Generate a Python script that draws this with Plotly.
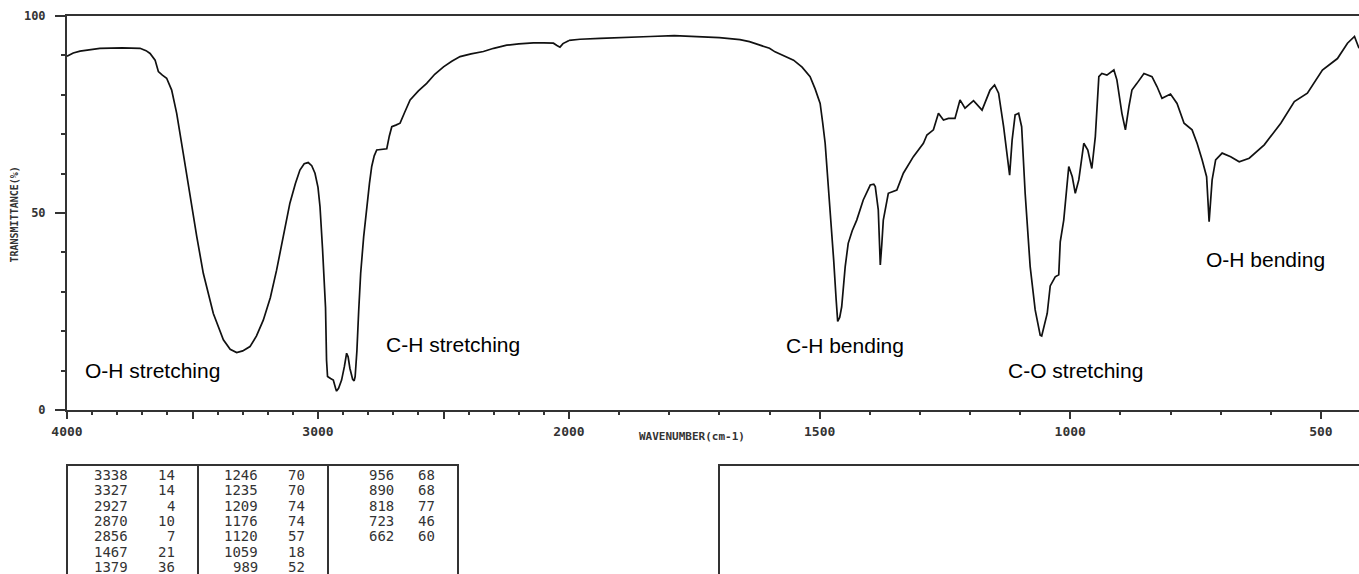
import plotly.graph_objects as go

# ---- IR spectrum: wavenumber (cm-1) vs transmittance (%) ----
WAVENUMBER = [
    4000, 3975, 3948, 3900, 3869, 3780, 3709, 3685, 3669, 3649, 3636, 3620, 3603,
    3583, 3563, 3537, 3510, 3483, 3457, 3417, 3377, 3350, 3324, 3300, 3271, 3245,
    3218, 3190, 3165, 3140, 3112, 3090, 3072, 3055, 3039, 3025, 3012, 3000, 2992,
    2982, 2970, 2966, 2962, 2950, 2939, 2930, 2926, 2918, 2906, 2895, 2886, 2880,
    2873, 2862, 2856, 2852, 2845, 2838, 2830, 2818, 2806, 2795, 2786, 2776, 2766,
    2745, 2726, 2716, 2706, 2690, 2673, 2655, 2633, 2600, 2567, 2535, 2500, 2467,
    2434, 2390, 2341, 2300, 2248, 2200, 2142, 2100, 2062, 2048, 2036, 2024, 2009,
    2000,
    1978, 1938, 1890, 1838, 1790, 1738, 1700, 1659, 1640, 1619, 1600, 1589, 1569,
    1552, 1535, 1519, 1509, 1499, 1494, 1489, 1484, 1479, 1472, 1467, 1464, 1460,
    1456, 1449, 1443, 1435, 1426, 1413, 1399, 1392, 1389, 1383, 1379, 1376, 1373,
    1363, 1346, 1333, 1313, 1293, 1286, 1273, 1263, 1253, 1243, 1230, 1220, 1210,
    1193, 1176, 1160, 1151, 1143, 1133, 1127, 1121, 1116, 1110, 1103, 1097, 1090,
    1080, 1070, 1060, 1057, 1050, 1046, 1040, 1030, 1023, 1020, 1013, 1003, 996,
    990, 983, 973, 965, 957, 950, 943, 937, 927, 913, 907, 897, 890, 883, 877,
    867, 853, 837, 827, 817, 808, 800, 787, 773, 757, 747, 737, 728, 723, 717,
    710, 697, 680, 663, 643, 613, 580, 553, 527, 497, 467, 447, 433, 424,
]
TRANSMITTANCE = [
    89.8, 90.6, 91.1, 91.6, 91.8, 91.9, 91.8, 91.2, 90.5, 88.8, 85.9, 85.0, 84.2,
    81.2, 75.3, 65.2, 54.1, 44.0, 34.7, 24.5, 17.8, 15.4, 14.6, 15.0, 16.1, 18.8,
    22.8, 28.5, 35.5, 43.5, 52.5, 57.5, 60.9, 62.5, 62.8, 62.0, 60.1, 56.5, 51.6,
    41.0, 26.0, 12.7, 8.5, 8.0, 7.6, 5.5, 4.8, 5.5, 7.6, 11.0, 14.4, 13.5,
    10.6, 7.8, 7.4, 8.5, 15.0, 25.0, 34.7, 44.0, 51.6, 57.5, 61.8, 64.5, 66.0,
    66.2, 66.3, 69.5, 71.9, 72.3, 72.8, 75.5, 78.7, 81.0, 82.9, 85.2, 87.1, 88.5,
    89.7, 90.4, 91.0, 91.8, 92.6, 92.9, 93.2, 93.2, 93.1, 92.5, 92.1, 93.0, 93.5,
    93.8,
    94.1, 94.3, 94.6, 94.8, 95.0, 94.8, 94.5, 94.0, 93.5, 92.6, 91.8, 90.9, 89.8,
    88.8, 87.0, 84.6, 81.5, 77.8, 73.0, 67.7, 59.0, 50.8, 38.1, 27.9, 22.5, 23.5,
    26.2, 36.4, 42.3, 45.5, 48.2, 53.3, 57.1, 57.3, 56.7, 50.8, 36.8, 42.0, 48.2,
    55.0, 55.8, 60.1, 64.3, 67.7, 69.8, 71.1, 75.3, 73.6, 74.0, 74.0, 78.7, 76.6,
    78.5, 76.1, 81.2, 82.5, 80.4, 71.9, 65.2, 59.6, 68.5, 74.9, 75.3, 71.9, 55.0,
    36.4, 25.4, 19.0, 18.8, 22.0, 24.5, 31.5, 33.8, 34.3, 42.7, 48.2, 61.8, 59.2,
    55.0, 58.4, 67.7, 66.0, 61.3, 69.4, 84.6, 85.4, 85.0, 86.3, 83.8, 75.3, 71.1, 77.0, 81.2,
    82.9, 85.4, 84.6, 82.1, 79.1, 79.6, 80.2, 77.8, 72.8, 71.1, 67.7, 63.5, 59.2, 47.8, 58.4,
    63.5, 65.2, 64.3, 63.0, 63.9, 67.3, 72.8, 78.3, 80.4, 86.3, 89.2, 93.1, 94.8, 91.8,
]

# ---- peak table (wavenumber, %T) ----
PEAK_WN = [3338, 3327, 2927, 2870, 2856, 1467, 1379,
           1246, 1235, 1209, 1176, 1120, 1059, 989,
           956, 890, 818, 723, 662]
PEAK_T = [14, 14, 4, 10, 7, 21, 36,
          70, 70, 74, 74, 57, 18, 52,
          68, 68, 77, 46, 60]

# ---- axis ticks ----
LEFT_TICKS = [4000, 3500, 3000, 2500]
LEFT_LABELS = ["4000", "", "3000", ""]
RIGHT_TICKS = [2000, 1500, 1000, 500]
RIGHT_LABELS = ["2000", "1500", "1000", "500"]
Y_TICKS = [0, 50, 100]
Y_LABELS = ["0", "50", "100"]

# band assignments
BANDS = [
    ("O-H stretching", "x", 3661, 9.9),
    ("C-H stretching", "x", 2464, 16.5),
    ("C-H bending", "x2", 1449, 16.3),
    ("C-O stretching", "x2", 990, 9.9),
    ("O-H bending", "x2", 611, 38.3),
]

W, H = 1359, 574
ML, MR, MT, MB = 67, 0, 16, 164
PW = W - ML - MR
PH = H - MT - MB
SPLIT = 502 / PW          # 4000-2000 drawn at half the scale of 2000-400

AX = "#333333"
INK = "#111111"
MONO = "DejaVu Sans Mono"


def px(xp):
    return (xp - ML) / PW


def py(yp):
    return (H - MB - yp) / PH


hi_wn = [w for w in WAVENUMBER if w >= 2000]
hi_t = [t for w, t in zip(WAVENUMBER, TRANSMITTANCE) if w >= 2000]
lo_wn = [w for w in WAVENUMBER if w <= 2000]
lo_t = [t for w, t in zip(WAVENUMBER, TRANSMITTANCE) if w <= 2000]

fig = go.Figure()
line = dict(color=INK, width=1.7)
fig.add_trace(go.Scatter(x=hi_wn, y=hi_t, mode="lines", line=line,
                         xaxis="x", yaxis="y", hoverinfo="skip"))
fig.add_trace(go.Scatter(x=lo_wn, y=lo_t, mode="lines", line=line,
                         xaxis="x2", yaxis="y", hoverinfo="skip"))

tickfont = dict(family=MONO, size=13, color=AX, weight="bold")
xcommon = dict(showline=True, linecolor=AX, linewidth=2, mirror=True,
               ticks="outside", ticklen=7, tickwidth=2, tickcolor=AX,
               showgrid=False, zeroline=False, tickfont=tickfont,
               ticklabelstandoff=1,
               minor=dict(ticks="outside", ticklen=3, tickwidth=2,
                          tickcolor=AX, dtick=100, tick0=0, showgrid=False))

fig.update_layout(
    width=W, height=H,
    margin=dict(l=ML, r=MR, t=MT, b=MB),
    plot_bgcolor="white", paper_bgcolor="white",
    showlegend=False,
    xaxis=dict(domain=[0, SPLIT], range=[4000, 2000], anchor="y",
               tickmode="array", tickvals=LEFT_TICKS, ticktext=LEFT_LABELS,
               **xcommon),
    xaxis2=dict(domain=[SPLIT, 1], range=[2000, 424], anchor="y",
                tickmode="array", tickvals=RIGHT_TICKS, ticktext=RIGHT_LABELS,
                **xcommon),
    yaxis=dict(domain=[0, 1], range=[0, 100], anchor="x",
               showline=True, linecolor=AX, linewidth=2,
               ticks="outside", ticklen=10, tickwidth=2, tickcolor=AX,
               tickmode="array", tickvals=Y_TICKS, ticktext=Y_LABELS,
               showgrid=False, zeroline=False,
               tickfont=dict(family=MONO, size=12, color=AX, weight="bold"),
               ticklabelstandoff=7,
               minor=dict(ticks="outside", ticklen=4, tickwidth=2,
                          tickcolor=AX, dtick=10, tick0=0, showgrid=False)),
)

annotations = []
for text, xr, xv, yv in BANDS:
    annotations.append(dict(text=text, x=xv, y=yv, xref=xr, yref="y",
                            showarrow=False, xanchor="center", yanchor="middle",
                            font=dict(family="Liberation Sans, Arial", size=21,
                                      color="black")))

# axis titles
annotations.append(dict(text="TRANSMITTANCE(%)", x=px(13.5), y=py(215),
                        xref="paper", yref="paper", showarrow=False,
                        textangle=-90, xanchor="center", yanchor="middle",
                        font=dict(family=MONO, size=10, color=AX, weight="bold")))
annotations.append(dict(text="WAVENUMBER(cm-1)", x=px(692), y=py(436),
                        xref="paper", yref="paper", showarrow=False,
                        xanchor="center", yanchor="middle",
                        font=dict(family=MONO, size=11, color=AX, weight="bold")))

# peak table: three columns of (wavenumber, %T)
cols = [(0, 7), (7, 14), (14, 19)]
wn_right = [130, 260, 396]
t_right = [177, 307, 437]
tfont = dict(family=MONO, size=14, color=AX)
for c, (a, b) in enumerate(cols):
    for r, i in enumerate(range(a, b)):
        yy = py(475 + r * 15.3)
        annotations.append(dict(text=str(PEAK_WN[i]), x=px(wn_right[c]), y=yy,
                                xref="paper", yref="paper", showarrow=False,
                                xanchor="right", yanchor="middle", font=tfont))
        annotations.append(dict(text=str(PEAK_T[i]), x=px(t_right[c]), y=yy,
                                xref="paper", yref="paper", showarrow=False,
                                xanchor="right", yanchor="middle", font=tfont))

fig.update_layout(annotations=annotations)

box = dict(color=AX, width=2)
shapes = [
    dict(type="rect", xref="paper", yref="paper", x0=px(67), x1=px(458),
         y0=py(620), y1=py(465), line=box),
    dict(type="line", xref="paper", yref="paper", x0=px(198), x1=px(198),
         y0=py(620), y1=py(465), line=box),
    dict(type="line", xref="paper", yref="paper", x0=px(328), x1=px(328),
         y0=py(620), y1=py(465), line=box),
    dict(type="rect", xref="paper", yref="paper", x0=px(719), x1=px(1420),
         y0=py(620), y1=py(465), line=box),
]
fig.update_layout(shapes=shapes)

fig.write_html("out.html")
